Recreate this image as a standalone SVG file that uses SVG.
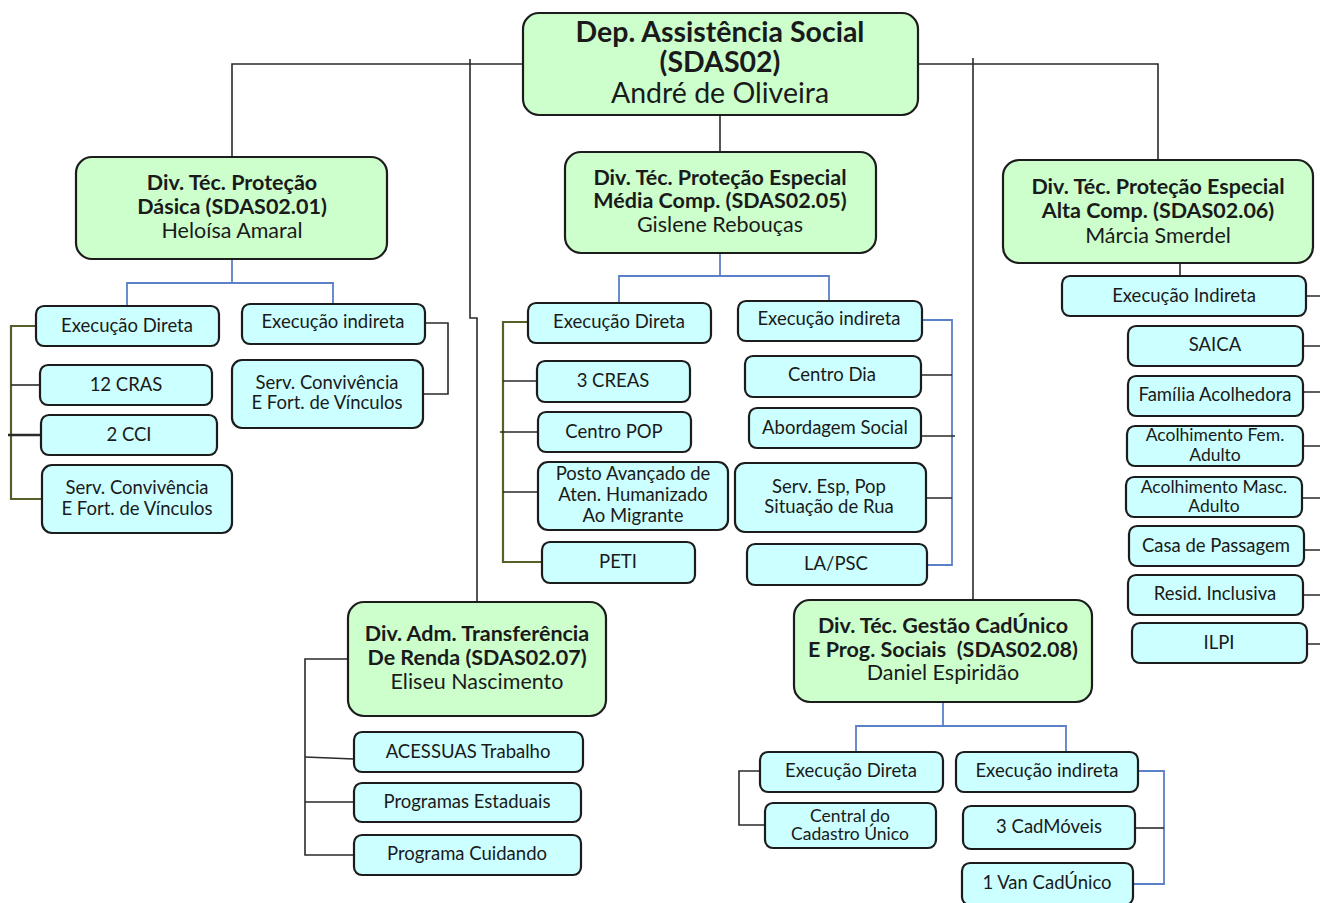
<svg xmlns="http://www.w3.org/2000/svg" width="1320" height="903" viewBox="0 0 1320 903">
  <style>
    .head rect { fill: #ccffcc; stroke: #1c1c1c; stroke-width: 2.2; }
    .unit rect { fill: #ccffff; stroke: #1c1c1c; stroke-width: 2.2; }
    text { font-family: Lato, "Liberation Sans", sans-serif; fill: #1a1a1a; text-anchor: middle; }
    .t1 { font-size: 28.5px; font-weight: bold; }
    .t1n { font-size: 28.5px; }
    .t2 { font-size: 21.5px; font-weight: bold; }
    .t2n { font-size: 21.5px; }
    .s { font-size: 18.5px; }
    .s2 { font-size: 17.5px; }
    .k { fill: none; stroke: #2a2a2a; stroke-width: 1.6; }
    .b { fill: none; stroke: #5a80c8; stroke-width: 1.8; }
    .o { fill: none; stroke: #55602a; stroke-width: 2.2; }
  </style>

  <!-- connectors -->
  <g id="connectors">
    <!-- department to divisions -->
    <path class="k" d="M523,64 H232 V157"/>
    <path class="k" d="M918,64 H1158 V160"/>
    <path class="k" d="M720,115 V152"/>
    <path class="k" d="M470,59 V318 H477 V602"/>
    <path class="k" d="M973,58 V600"/>

    <!-- Proteção Básica -->
    <path class="b" d="M232,259 V283 M127,306 V283 H333 V304"/>
    <path class="o" d="M36,326 H11 V499 H42"/>
    <path class="k" d="M11,385 H40"/>
    <path class="k" style="stroke-width:2.4" d="M8,435 H41"/>
    <path class="k" d="M425,323 H448 V394 H423"/>

    <!-- Média Complexidade -->
    <path class="b" d="M720,253 V276 M619,303 V276 H829 V301"/>
    <path class="o" d="M528,322 H503 V562 H542"/>
    <path class="k" d="M503,381 H537 M500,432 H538 M503,492 H538"/>
    <path class="b" d="M922,320 H952 V565 H927"/>
    <path class="k" d="M921,375 H952 M921,436 H955 M926,498 H952"/>

    <!-- Alta Complexidade -->
    <path class="k" d="M1180,263 V276"/>
    <path class="k" d="M1306,296 H1320 M1303,346 H1320 M1303,392 H1320 M1303,446 H1320 M1302,498 H1320 M1304,550 H1320 M1303,595 H1320 M1307,644 H1320"/>

    <!-- Transferência de Renda -->
    <path class="k" d="M348,659 H305 V855 H354"/>
    <path class="k" d="M305,757 L354,759 M305,802 H354"/>

    <!-- Gestão CadÚnico -->
    <path class="b" d="M943,702 V726 M856,752 V726 H1066 V752"/>
    <path class="k" d="M760,771 H739 V825 H765"/>
    <path class="b" d="M1138,771 H1164 V884 H1133"/>
    <path class="k" d="M1135,828 H1164"/>
  </g>

  <!-- department -->
  <g id="dep" class="head">
    <rect x="523" y="13" width="395" height="102" rx="16"/>
    <text class="t1" x="720" y="42">Dep. Assistência Social</text>
    <text class="t1" x="720" y="72">(SDAS02)</text>
    <text class="t1n" x="720" y="103">André de Oliveira</text>
  </g>

  <!-- divisions -->
  <g id="div-basica" class="head">
    <rect x="76" y="157" width="311" height="102" rx="16"/>
    <text class="t2" x="232" y="190">Div. Téc. Proteção</text>
    <text class="t2" x="232" y="214">Dásica (SDAS02.01)</text>
    <text class="t2n" x="232" y="238">Heloísa Amaral</text>
  </g>
  <g id="div-media" class="head">
    <rect x="565" y="152" width="311" height="101" rx="16"/>
    <text class="t2" x="720" y="185">Div. Téc. Proteção Especial</text>
    <text class="t2" x="720" y="208">Média Comp. (SDAS02.05)</text>
    <text class="t2n" x="720" y="232">Gislene Rebouças</text>
  </g>
  <g id="div-alta" class="head">
    <rect x="1003" y="160" width="310" height="103" rx="16"/>
    <text class="t2" x="1158" y="194">Div. Téc. Proteção Especial</text>
    <text class="t2" x="1158" y="218">Alta Comp. (SDAS02.06)</text>
    <text class="t2n" x="1158" y="243">Márcia Smerdel</text>
  </g>
  <g id="div-renda" class="head">
    <rect x="348" y="602" width="258" height="114" rx="16"/>
    <text class="t2" x="477" y="641">Div. Adm. Transferência</text>
    <text class="t2" x="477" y="665">De Renda (SDAS02.07)</text>
    <text class="t2n" x="477" y="689">Eliseu Nascimento</text>
  </g>
  <g id="div-cadunico" class="head">
    <rect x="794" y="600" width="298" height="102" rx="16"/>
    <text class="t2" x="943" y="633">Div. Téc. Gestão CadÚnico</text>
    <text class="t2" x="943" y="657" xml:space="preserve">E Prog. Sociais  (SDAS02.08)</text>
    <text class="t2n" x="943" y="680">Daniel Espiridão</text>
  </g>

  <!-- Proteção Básica units -->
  <g id="pb-direta" class="unit"><rect x="36" y="306" width="183" height="40" rx="8"/><text class="s" x="127" y="332">Execução Direta</text></g>
  <g id="pb-indireta" class="unit"><rect x="242" y="304" width="183" height="40" rx="8"/><text class="s" x="333" y="328">Execução indireta</text></g>
  <g id="pb-cras" class="unit"><rect x="40" y="365" width="172" height="40" rx="8"/><text class="s" x="126" y="391">12 CRAS</text></g>
  <g id="pb-cci" class="unit"><rect x="41" y="415" width="176" height="40" rx="8"/><text class="s" x="129" y="441">2 CCI</text></g>
  <g id="pb-scfv" class="unit"><rect x="42" y="465" width="190" height="68" rx="10"/><text class="s" x="137" y="494">Serv. Convivência</text><text class="s" x="137" y="515">E Fort. de Vínculos</text></g>
  <g id="pb-scfv-ind" class="unit"><rect x="232" y="360" width="191" height="68" rx="10"/><text class="s" x="327" y="389">Serv. Convivência</text><text class="s" x="327" y="409">E Fort. de Vínculos</text></g>

  <!-- Média Complexidade units -->
  <g id="pm-direta" class="unit"><rect x="528" y="303" width="183" height="40" rx="8"/><text class="s" x="619" y="328">Execução Direta</text></g>
  <g id="pm-indireta" class="unit"><rect x="738" y="301" width="184" height="40" rx="8"/><text class="s" x="829" y="325">Execução indireta</text></g>
  <g id="pm-creas" class="unit"><rect x="537" y="361" width="153" height="41" rx="8"/><text class="s" x="613" y="387">3 CREAS</text></g>
  <g id="pm-pop" class="unit"><rect x="538" y="412" width="153" height="40" rx="8"/><text class="s" x="614" y="438">Centro POP</text></g>
  <g id="pm-posto" class="unit"><rect x="538" y="462" width="190" height="68" rx="10"/><text class="s" x="633" y="480">Posto Avançado de</text><text class="s" x="633" y="501">Aten. Humanizado</text><text class="s" x="633" y="522">Ao Migrante</text></g>
  <g id="pm-peti" class="unit"><rect x="542" y="542" width="153" height="41" rx="8"/><text class="s" x="618" y="568">PETI</text></g>
  <g id="pm-dia" class="unit"><rect x="745" y="356" width="176" height="41" rx="8"/><text class="s" x="832" y="381">Centro Dia</text></g>
  <g id="pm-abordagem" class="unit"><rect x="749" y="408" width="172" height="40" rx="8"/><text class="s" x="835" y="434">Abordagem Social</text></g>
  <g id="pm-rua" class="unit"><rect x="735" y="463" width="191" height="69" rx="10"/><text class="s" x="829" y="493">Serv. Esp, Pop</text><text class="s" x="829" y="513">Situação de Rua</text></g>
  <g id="pm-lapsc" class="unit"><rect x="747" y="544" width="180" height="41" rx="8"/><text class="s" x="836" y="570">LA/PSC</text></g>

  <!-- Alta Complexidade units -->
  <g id="pa-indireta" class="unit"><rect x="1062" y="276" width="244" height="40" rx="8"/><text class="s" x="1184" y="302">Execução Indireta</text></g>
  <g id="pa-saica" class="unit"><rect x="1128" y="326" width="175" height="40" rx="8"/><text class="s" x="1215" y="351">SAICA</text></g>
  <g id="pa-familia" class="unit"><rect x="1128" y="376" width="175" height="40" rx="8"/><text class="s" x="1215" y="401">Família Acolhedora</text></g>
  <g id="pa-fem" class="unit"><rect x="1127" y="426" width="176" height="40" rx="8"/><text class="s2" x="1215" y="441">Acolhimento Fem.</text><text class="s2" x="1215" y="461">Adulto</text></g>
  <g id="pa-masc" class="unit"><rect x="1126" y="477" width="176" height="40" rx="8"/><text class="s2" x="1214" y="493">Acolhimento Masc.</text><text class="s2" x="1214" y="512">Adulto</text></g>
  <g id="pa-passagem" class="unit"><rect x="1129" y="526" width="175" height="40" rx="8"/><text class="s" x="1216" y="552">Casa de Passagem</text></g>
  <g id="pa-resid" class="unit"><rect x="1128" y="575" width="175" height="40" rx="8"/><text class="s" x="1215" y="600">Resid. Inclusiva</text></g>
  <g id="pa-ilpi" class="unit"><rect x="1132" y="623" width="175" height="40" rx="8"/><text class="s" x="1219" y="649">ILPI</text></g>

  <!-- Transferência de Renda units -->
  <g id="tr-acessuas" class="unit"><rect x="354" y="732" width="229" height="40" rx="8"/><text class="s" x="468" y="758">ACESSUAS Trabalho</text></g>
  <g id="tr-estaduais" class="unit"><rect x="354" y="783" width="227" height="39" rx="8"/><text class="s" x="467" y="808">Programas Estaduais</text></g>
  <g id="tr-cuidando" class="unit"><rect x="354" y="835" width="227" height="40" rx="8"/><text class="s" x="467" y="860">Programa Cuidando</text></g>

  <!-- Gestão CadÚnico units -->
  <g id="gc-direta" class="unit"><rect x="760" y="752" width="183" height="40" rx="8"/><text class="s" x="851" y="777">Execução Direta</text></g>
  <g id="gc-indireta" class="unit"><rect x="956" y="752" width="182" height="40" rx="8"/><text class="s" x="1047" y="777">Execução indireta</text></g>
  <g id="gc-central" class="unit"><rect x="765" y="803" width="171" height="45" rx="8"/><text class="s2" x="850" y="822">Central do</text><text class="s2" x="850" y="840">Cadastro Único</text></g>
  <g id="gc-cadmoveis" class="unit"><rect x="963" y="806" width="172" height="43" rx="8"/><text class="s" x="1049" y="833">3 CadMóveis</text></g>
  <g id="gc-van" class="unit"><rect x="962" y="863" width="171" height="42" rx="8"/><text class="s" x="1047" y="889">1 Van CadÚnico</text></g>
</svg>
